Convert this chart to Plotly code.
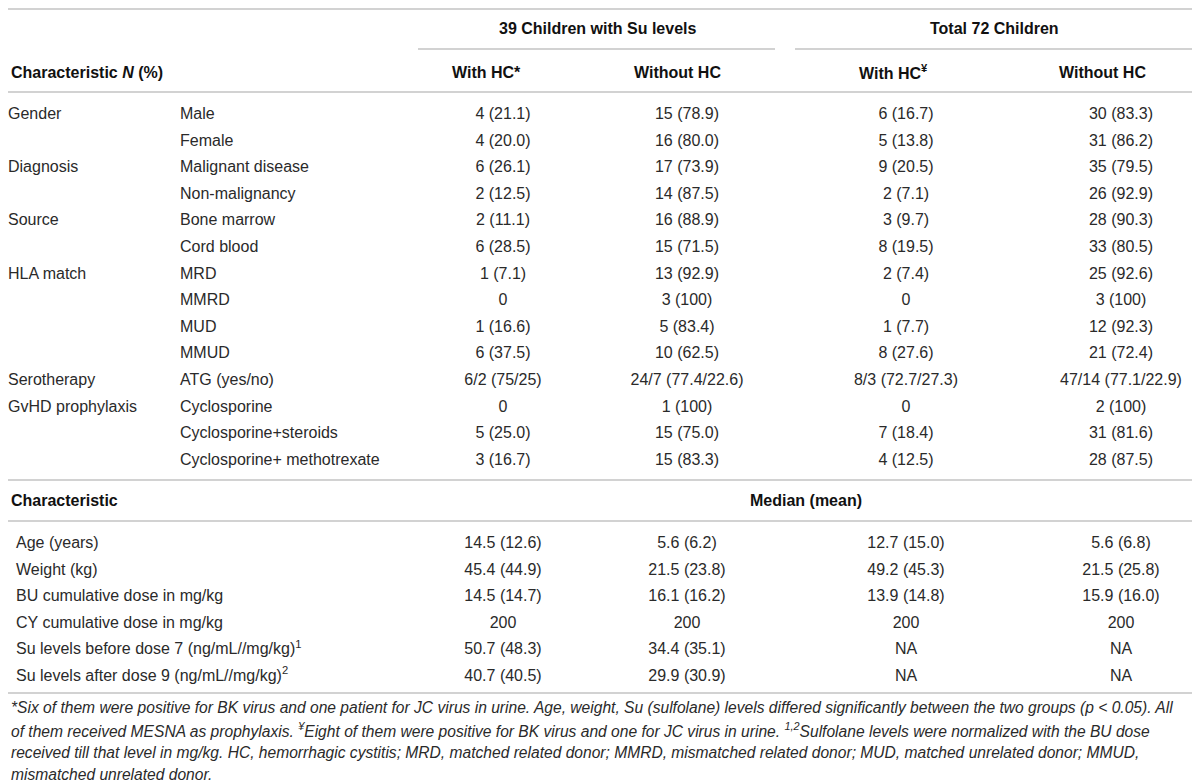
import plotly.graph_objects as go

# ---- table data ----
categories = ["Gender", "", "Diagnosis", "", "Source", "", "HLA match", "", "", "",
              "Serotherapy", "GvHD prophylaxis", "", ""]
subcategories = ["Male", "Female", "Malignant disease", "Non-malignancy", "Bone marrow",
                 "Cord blood", "MRD", "MMRD", "MUD", "MMUD", "ATG (yes/no)", "Cyclosporine",
                 "Cyclosporine+steroids", "Cyclosporine+ methotrexate"]
su_with_hc = ["4 (21.1)", "4 (20.0)", "6 (26.1)", "2 (12.5)", "2 (11.1)", "6 (28.5)", "1 (7.1)",
              "0", "1 (16.6)", "6 (37.5)", "6/2 (75/25)", "0", "5 (25.0)", "3 (16.7)"]
su_without_hc = ["15 (78.9)", "16 (80.0)", "17 (73.9)", "14 (87.5)", "16 (88.9)", "15 (71.5)",
                 "13 (92.9)", "3 (100)", "5 (83.4)", "10 (62.5)", "24/7 (77.4/22.6)", "1 (100)",
                 "15 (75.0)", "15 (83.3)"]
tot_with_hc = ["6 (16.7)", "5 (13.8)", "9 (20.5)", "2 (7.1)", "3 (9.7)", "8 (19.5)", "2 (7.4)",
               "0", "1 (7.7)", "8 (27.6)", "8/3 (72.7/27.3)", "0", "7 (18.4)", "4 (12.5)"]
tot_without_hc = ["30 (83.3)", "31 (86.2)", "35 (79.5)", "26 (92.9)", "28 (90.3)", "33 (80.5)",
                  "25 (92.6)", "3 (100)", "12 (92.3)", "21 (72.4)", "47/14 (77.1/22.9)",
                  "2 (100)", "31 (81.6)", "28 (87.5)"]

median_labels = ["Age (years)", "Weight (kg)", "BU cumulative dose in mg/kg",
                 "CY cumulative dose in mg/kg",
                 "Su levels before dose 7 (ng/mL//mg/kg)<sup>1</sup>",
                 "Su levels after dose 9 (ng/mL//mg/kg)<sup>2</sup>"]
med_su_with = ["14.5 (12.6)", "45.4 (44.9)", "14.5 (14.7)", "200", "50.7 (48.3)", "40.7 (40.5)"]
med_su_without = ["5.6 (6.2)", "21.5 (23.8)", "16.1 (16.2)", "200", "34.4 (35.1)", "29.9 (30.9)"]
med_tot_with = ["12.7 (15.0)", "49.2 (45.3)", "13.9 (14.8)", "200", "NA", "NA"]
med_tot_without = ["5.6 (6.8)", "21.5 (25.8)", "15.9 (16.0)", "200", "NA", "NA"]

group_headers = ["39 Children with Su levels", "Total 72 Children"]
col_headers = ["With HC*", "Without HC", "With HC<sup>¥</sup>", "Without HC"]

footnote = [
    "*Six of them were positive for BK virus and one patient for JC virus in urine. Age, weight, "
    "Su (sulfolane) levels differed significantly between the two groups (p &lt; 0.05). All",
    "of them received MESNA as prophylaxis. <sup>¥</sup>Eight of them were positive for BK virus "
    "and one for JC virus in urine. <sup>1,2</sup>Sulfolane levels were normalized with the BU dose",
    "received till that level in mg/kg. HC, hemorrhagic cystitis; MRD, matched related donor; "
    "MMRD, mismatched related donor; MUD, matched unrelated donor; MMUD,",
    "mismatched unrelated donor.",
]

# ---- layout helpers (page pixel coords, y downwards; the page body has an 8px margin) ----
FONT = "Liberation Sans, Arial, sans-serif"
TXT = "#2a2a2a"
LINE = "#d2d2d2"
ROW_H = 26.6
top_rows = [115 + i * ROW_H for i in range(len(subcategories))]
med_rows = [544 + i * ROW_H for i in range(len(median_labels))]
val_x = [503, 687, 906, 1121]
head_x = [486, 677, 893, 1102]

fig = go.Figure()


def text_col(x, ys, texts, pos="middle center"):
    pts = [(y, t) for y, t in zip(ys, texts) if t]
    fig.add_trace(go.Scatter(
        x=[x] * len(pts), y=[p[0] for p in pts], text=[p[1] for p in pts],
        mode="text", textposition=pos, cliponaxis=False,
        textfont=dict(family=FONT, size=16, color=TXT), hoverinfo="skip",
        showlegend=False))


text_col(8, top_rows, categories, "middle right")
text_col(180, top_rows, subcategories, "middle right")
for x, col in zip(val_x, [su_with_hc, su_without_hc, tot_with_hc, tot_without_hc]):
    text_col(x, top_rows, col)

text_col(16, med_rows, median_labels, "middle right")
for x, col in zip(val_x, [med_su_with, med_su_without, med_tot_with, med_tot_without]):
    text_col(x, med_rows, col)

annos = []
bold = dict(family=FONT, size=16, color="#111111")
for x, t in zip([597, 994], group_headers):
    annos.append(dict(x=x, y=28, text="<b>%s</b>" % t, showarrow=False, font=bold))
for x, t in zip(head_x, col_headers):
    annos.append(dict(x=x, y=72, text="<b>%s</b>" % t, showarrow=False, font=bold))
annos.append(dict(x=8.5, y=72, text="<b>Characteristic <i>N</i> (%)</b>", showarrow=False,
                  font=bold, xanchor="left"))
annos.append(dict(x=8.5, y=500, text="<b>Characteristic</b>", showarrow=False,
                  font=bold, xanchor="left"))
annos.append(dict(x=806, y=500, text="<b>Median (mean)</b>", showarrow=False, font=bold))
for i, t in enumerate(footnote):
    annos.append(dict(x=8.5, y=707 + i * 22.5, text="<i>%s</i>" % t, showarrow=False,
                      xanchor="left", font=dict(family=FONT, size=15.6, color=TXT)))

# horizontal rules
rules = [(5, 1193, 9), (418, 775, 49), (795, 1193, 49), (5, 1193, 92),
         (5, 1193, 480), (5, 1193, 521), (5, 1193, 693)]
for x0, x1, y in rules:
    fig.add_shape(type="line", x0=x0, x1=x1, y0=y, y1=y,
                  line=dict(color=LINE, width=2))

fig.update_layout(
    width=1192, height=775, margin=dict(l=0, r=0, t=0, b=0),
    plot_bgcolor="white", paper_bgcolor="white", annotations=annos,
    xaxis=dict(range=[8, 1200], visible=False, fixedrange=True),
    yaxis=dict(range=[783, 8], visible=False, fixedrange=True),
)
fig.write_html("out.html", config={"displayModeBar": False})
